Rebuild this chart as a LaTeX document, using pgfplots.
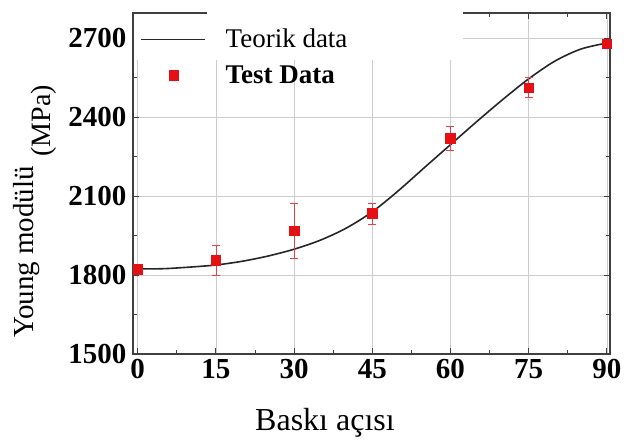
\documentclass[border=0pt]{standalone}
\usepackage{pgfplots}
\pgfplotsset{compat=1.18}
\usepackage{fontspec}
\setmainfont{Liberation Serif}
\definecolor{datared}{RGB}{228,16,20}
\definecolor{gridgray}{RGB}{205,205,205}
\pgfplotsset{
  longline legend/.style={legend image code/.code={\draw[##1] (0pt,0pt) -- (64pt,0pt); \path (82pt,0pt);}},
  midmark legend/.style={legend image code/.code={\draw[##1] plot coordinates {(33pt,0pt)}; \path (70pt,0pt);}},
}
\begin{document}
\begin{tikzpicture}
\useasboundingbox (-133pt,-90pt) rectangle (495pt,354pt);
\begin{axis}[
  at={(0pt,0pt)}, anchor=south west,
  scale only axis, width=477pt, height=341pt,
  xmin=-0.9, xmax=90.6, ymin=1500, ymax=2795,
  xtick={0,15,...,90}, ytick={1500,1800,...,2700},
  minor x tick num=1, minor y tick num=1,
  tick align=inside, major tick length=6pt, minor tick length=4pt,
  grid=major, major grid style={gridgray, line width=0.6pt},
  axis line style={black!75, line width=1.2pt},
  tick style={black!75, line width=0.8pt},
  ticklabel style={font=\fontsize{29}{29}\selectfont\bfseries},
  /pgf/number format/assume math mode=true,
  /pgf/number format/1000 sep={},
  xticklabel style={yshift=-2pt}, yticklabel style={xshift=-3pt},
  legend style={at={(0.006,1.0)}, anchor=north west, draw=none, fill=none,
    yshift=-10pt, font=\fontsize{27}{27}\selectfont, row sep=12pt,
    inner xsep=4pt, inner ysep=4pt},
  legend cell align=left,
  clip=false,
]
% white patch behind the legend, as in the original
\fill[white] (rel axis cs:0.003,0.997) rectangle (rel axis cs:0.155,0.862);
\fill[white] (rel axis cs:0.155,1.003) rectangle (rel axis cs:0.692,0.862);
% theoretical curve
\addplot [black!85, line width=1.6pt, smooth, longline legend]
table {%
0 1823
5 1824
10 1830
15 1838
20 1852
25 1872
30 1898
35 1932
40 1978
45 2040
50 2120
55 2208
60 2295
65 2382
70 2466
75 2545
80 2612
85 2658
90 2681
};
\addlegendentry{Teorik data}
% test data
\addplot [datared, only marks, mark=square*, mark size=4.8pt, midmark legend,
  error bars/.cd, y dir=both, y explicit,
  error bar style={datared!80, line width=0.7pt},
  error mark options={rotate=90, mark size=4pt, datared!80, line width=0.7pt}]
table [y error=e] {%
x y e
0 1823 8
15 1857 57
30 1968 105
45 2034 40
60 2319 47
75 2511 38
90 2679 10
};
\addlegendentry{\textbf{Test Data}}
\end{axis}
\node[rotate=90, font=\fontsize{29}{29}\selectfont] at (-106pt,102pt) {Young modülü};
\node[rotate=90, font=\fontsize{28}{28}\selectfont] at (-89pt,233pt) {(MPa)};
\node[font=\fontsize{32}{32}\selectfont] at (192pt,-69pt) {Baskı açısı};
\end{tikzpicture}
\end{document}
